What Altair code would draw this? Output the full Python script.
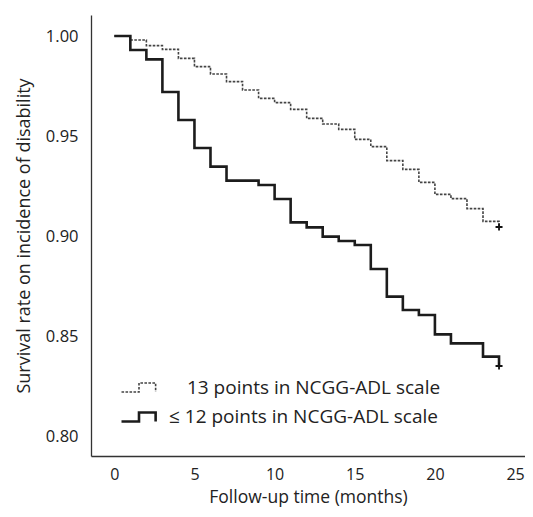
import altair as alt
import pandas as pd

FONT = "Open Sans"

# Series 1: 13 points in NCGG-ADL scale (dashed)
months_high = [0, 1, 2, 3, 4, 5, 6, 7, 8, 9, 10, 11, 12, 13, 14, 15, 16, 17, 18, 19, 20, 21, 22, 23, 24]
surv_high = [1.0, 0.998, 0.9952, 0.9933, 0.9888, 0.9847, 0.981, 0.9772, 0.973, 0.9688, 0.9667, 0.9633,
             0.9588, 0.956, 0.9533, 0.9483, 0.9447, 0.9377, 0.9333, 0.9268, 0.9208, 0.9187, 0.9137,
             0.9073, 0.9045]

# Series 2: <= 12 points in NCGG-ADL scale (solid)
months_low = [0, 1, 2, 3, 4, 5, 6, 7, 9, 10, 11, 12, 13, 14, 15, 16, 17, 18, 19, 20, 21, 23, 24]
surv_low = [1.0, 0.993, 0.9883, 0.972, 0.958, 0.944, 0.9347, 0.9277, 0.9255, 0.9185, 0.9068, 0.9043,
            0.8997, 0.8975, 0.8955, 0.8835, 0.8697, 0.863, 0.8605, 0.8508, 0.8463, 0.8397, 0.835]

# Censored marks (+) at end of follow-up
censor_months = [24, 24]
censor_surv = [0.9045, 0.835]

label_high = "\u200b\u00a0\u00a0\u00a0\u200913 points in NCGG-ADL scale"
label_low = "\u2264 12 points in NCGG-ADL scale"
series_labels = [label_high, label_low]

x_ticks = [0, 5, 10, 15, 20, 25]
y_ticks = [0.80, 0.85, 0.90, 0.95, 1.00]

df = pd.concat([
    pd.DataFrame({"month": months_high, "surv": surv_high, "series": label_high}),
    pd.DataFrame({"month": months_low, "surv": surv_low, "series": label_low}),
], ignore_index=True)
cens = pd.DataFrame({"month": censor_months, "surv": censor_surv})

x_scale = alt.Scale(domain=[-1.454, 25.62], nice=False, zero=False)
y_scale = alt.Scale(domain=[0.790, 1.0105], nice=False, zero=False)

x_axis = alt.Axis(values=x_ticks, title="Follow-up time (months)", ticks=False, grid=False,
                  labelFontSize=16, labelPadding=10, labelFlush=False, labelColor="#222",
                  domainColor="#333", domainWidth=1.3,
                  titleFontSize=17.5, titleFontWeight="normal", titleColor="#222",
                  titleBaseline="alphabetic", titleY=46.5)
y_axis = alt.Axis(values=y_ticks, format=".2f", title="Survival rate on incidence of disability",
                  ticks=False, grid=False, labelFontSize=16.5, labelPadding=13, labelFlush=False,
                  labelColor="#222", domainColor="#333", domainWidth=1.3,
                  titleFontSize=18, titleFontWeight="normal", titleColor="#222",
                  titleBaseline="alphabetic", titleX=-62)

legend = alt.Legend(title=None, orient="none", legendX=29, legendY=354, padding=0,
                    symbolType="M-1,0.26L0,0.26L0,-0.26L0.95,-0.26L0.95,0.26",
                    symbolSize=1225, symbolFillColor="transparent",
                    labelFontSize=19, labelColor="#222", labelOffset=11, rowPadding=-2,
                    labelLimit=400)

lines = alt.Chart(df).mark_line(interpolate="step-after").encode(
    x=alt.X("month:Q", scale=x_scale, axis=x_axis),
    y=alt.Y("surv:Q", scale=y_scale, axis=y_axis),
    color=alt.Color("series:N", scale=alt.Scale(domain=series_labels, range=["#444444", "#1c1c1c"]),
                    legend=legend),
    strokeDash=alt.StrokeDash("series:N", scale=alt.Scale(domain=series_labels, range=[[2.6, 1.4], [1, 0]]),
                              legend=legend),
    strokeWidth=alt.StrokeWidth("series:N", scale=alt.Scale(domain=series_labels, range=[1.6, 2.6]),
                                legend=legend),
)

marks = alt.Chart(cens).mark_point(shape="M-1,0L1,0M0,-1L0,1", size=49, filled=False,
                                   strokeWidth=1.8, color="#111", opacity=1).encode(
    x=alt.X("month:Q", scale=x_scale),
    y=alt.Y("surv:Q", scale=y_scale),
)

chart = alt.layer(lines, marks).properties(
    width=434, height=441,
    autosize=alt.AutoSizeParams(type="none"),
    padding={"left": 83, "top": 7, "right": 0, "bottom": 52},
    background="white",
).configure(font=FONT).configure_view(stroke="transparent", strokeWidth=0)

chart.save("out.html", embed_options={"renderer": "svg", "actions": False})
